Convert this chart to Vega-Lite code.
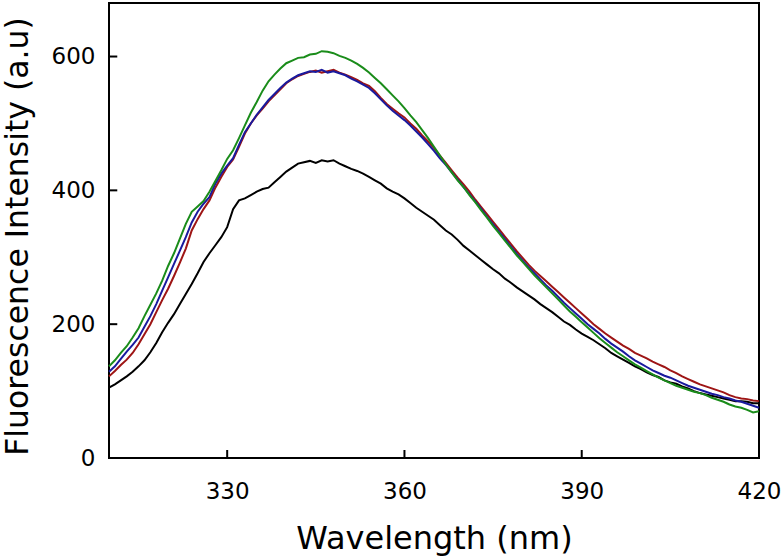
{
"$schema": "https://vega.github.io/schema/vega-lite/v6.json",
"width": 650, "height": 455,
"autosize": {"type": "none"},
"padding": {"left": 109, "top": 3, "right": 25, "bottom": 102},
"background": "white",
"config": {"view": {"stroke": "black", "strokeWidth": 2}, "font": "DejaVu Sans"},
"layer": [
{
"data": {"values": [
{"w":310,"s":"A","v":105},{"w":311,"s":"A","v":110},{"w":312,"s":"A","v":116},{"w":313,"s":"A","v":122},{"w":314,"s":"A","v":129},{"w":315,"s":"A","v":137},{"w":316,"s":"A","v":146},{"w":317,"s":"A","v":158},{"w":318,"s":"A","v":172},{"w":319,"s":"A","v":188},{"w":320,"s":"A","v":202},{"w":321,"s":"A","v":215},{"w":322,"s":"A","v":230},{"w":323,"s":"A","v":245},{"w":324,"s":"A","v":260},{"w":325,"s":"A","v":276},{"w":326,"s":"A","v":293},{"w":327,"s":"A","v":306},{"w":328,"s":"A","v":318},{"w":329,"s":"A","v":330},{"w":330,"s":"A","v":345},{"w":331,"s":"A","v":372},{"w":332,"s":"A","v":385},{"w":333,"s":"A","v":388},{"w":334,"s":"A","v":393},{"w":335,"s":"A","v":398},{"w":336,"s":"A","v":402},{"w":337,"s":"A","v":404},{"w":338,"s":"A","v":412},{"w":339,"s":"A","v":420},{"w":340,"s":"A","v":428},{"w":341,"s":"A","v":434},{"w":342,"s":"A","v":440},{"w":343,"s":"A","v":442},{"w":344,"s":"A","v":444},{"w":345,"s":"A","v":441},{"w":346,"s":"A","v":445},{"w":347,"s":"A","v":443},{"w":348,"s":"A","v":445},{"w":349,"s":"A","v":440},{"w":350,"s":"A","v":436},{"w":351,"s":"A","v":432},{"w":352,"s":"A","v":429},{"w":353,"s":"A","v":425},{"w":354,"s":"A","v":420},{"w":355,"s":"A","v":415},{"w":356,"s":"A","v":410},{"w":357,"s":"A","v":403},{"w":358,"s":"A","v":398},{"w":359,"s":"A","v":394},{"w":360,"s":"A","v":388},{"w":361,"s":"A","v":381},{"w":362,"s":"A","v":374},{"w":363,"s":"A","v":368},{"w":364,"s":"A","v":362},{"w":365,"s":"A","v":356},{"w":366,"s":"A","v":348},{"w":367,"s":"A","v":340},{"w":368,"s":"A","v":334},{"w":369,"s":"A","v":326},{"w":370,"s":"A","v":317},{"w":371,"s":"A","v":310},{"w":372,"s":"A","v":303},{"w":373,"s":"A","v":296},{"w":374,"s":"A","v":289},{"w":375,"s":"A","v":282},{"w":376,"s":"A","v":276},{"w":377,"s":"A","v":268},{"w":378,"s":"A","v":262},{"w":379,"s":"A","v":255},{"w":380,"s":"A","v":249},{"w":381,"s":"A","v":243},{"w":382,"s":"A","v":237},{"w":383,"s":"A","v":230},{"w":384,"s":"A","v":224},{"w":385,"s":"A","v":218},{"w":386,"s":"A","v":211},{"w":387,"s":"A","v":204},{"w":388,"s":"A","v":199},{"w":389,"s":"A","v":192},{"w":390,"s":"A","v":186},{"w":391,"s":"A","v":181},{"w":392,"s":"A","v":176},{"w":393,"s":"A","v":170},{"w":394,"s":"A","v":164},{"w":395,"s":"A","v":157},{"w":396,"s":"A","v":152},{"w":397,"s":"A","v":147},{"w":398,"s":"A","v":142},{"w":399,"s":"A","v":137},{"w":400,"s":"A","v":133},{"w":401,"s":"A","v":128},{"w":402,"s":"A","v":124},{"w":403,"s":"A","v":121},{"w":404,"s":"A","v":116},{"w":405,"s":"A","v":113},{"w":406,"s":"A","v":111},{"w":407,"s":"A","v":107},{"w":408,"s":"A","v":104},{"w":409,"s":"A","v":100},{"w":410,"s":"A","v":97},{"w":411,"s":"A","v":95},{"w":412,"s":"A","v":93},{"w":413,"s":"A","v":91},{"w":414,"s":"A","v":89},{"w":415,"s":"A","v":87},{"w":416,"s":"A","v":85},{"w":417,"s":"A","v":85},{"w":418,"s":"A","v":84},{"w":419,"s":"A","v":82},{"w":420,"s":"A","v":82},
{"w":310,"s":"B","v":122},{"w":311,"s":"B","v":130},{"w":312,"s":"B","v":139},{"w":313,"s":"B","v":147},{"w":314,"s":"B","v":157},{"w":315,"s":"B","v":170},{"w":316,"s":"B","v":185},{"w":317,"s":"B","v":200},{"w":318,"s":"B","v":218},{"w":319,"s":"B","v":236},{"w":320,"s":"B","v":253},{"w":321,"s":"B","v":272},{"w":322,"s":"B","v":292},{"w":323,"s":"B","v":313},{"w":324,"s":"B","v":340},{"w":325,"s":"B","v":357},{"w":326,"s":"B","v":372},{"w":327,"s":"B","v":385},{"w":328,"s":"B","v":404},{"w":329,"s":"B","v":420},{"w":330,"s":"B","v":435},{"w":331,"s":"B","v":446},{"w":332,"s":"B","v":465},{"w":333,"s":"B","v":485},{"w":334,"s":"B","v":500},{"w":335,"s":"B","v":512},{"w":336,"s":"B","v":522},{"w":337,"s":"B","v":533},{"w":338,"s":"B","v":542},{"w":339,"s":"B","v":551},{"w":340,"s":"B","v":560},{"w":341,"s":"B","v":566},{"w":342,"s":"B","v":571},{"w":343,"s":"B","v":574},{"w":344,"s":"B","v":577},{"w":345,"s":"B","v":579},{"w":346,"s":"B","v":576},{"w":347,"s":"B","v":578},{"w":348,"s":"B","v":580},{"w":349,"s":"B","v":576},{"w":350,"s":"B","v":573},{"w":351,"s":"B","v":569},{"w":352,"s":"B","v":565},{"w":353,"s":"B","v":560},{"w":354,"s":"B","v":556},{"w":355,"s":"B","v":548},{"w":356,"s":"B","v":538},{"w":357,"s":"B","v":529},{"w":358,"s":"B","v":522},{"w":359,"s":"B","v":515},{"w":360,"s":"B","v":509},{"w":361,"s":"B","v":500},{"w":362,"s":"B","v":492},{"w":363,"s":"B","v":482},{"w":364,"s":"B","v":473},{"w":365,"s":"B","v":463},{"w":366,"s":"B","v":452},{"w":367,"s":"B","v":441},{"w":368,"s":"B","v":430},{"w":369,"s":"B","v":419},{"w":370,"s":"B","v":409},{"w":371,"s":"B","v":398},{"w":372,"s":"B","v":386},{"w":373,"s":"B","v":375},{"w":374,"s":"B","v":364},{"w":375,"s":"B","v":353},{"w":376,"s":"B","v":342},{"w":377,"s":"B","v":331},{"w":378,"s":"B","v":320},{"w":379,"s":"B","v":309},{"w":380,"s":"B","v":299},{"w":381,"s":"B","v":289},{"w":382,"s":"B","v":280},{"w":383,"s":"B","v":272},{"w":384,"s":"B","v":264},{"w":385,"s":"B","v":256},{"w":386,"s":"B","v":248},{"w":387,"s":"B","v":240},{"w":388,"s":"B","v":232},{"w":389,"s":"B","v":224},{"w":390,"s":"B","v":216},{"w":391,"s":"B","v":208},{"w":392,"s":"B","v":200},{"w":393,"s":"B","v":193},{"w":394,"s":"B","v":186},{"w":395,"s":"B","v":180},{"w":396,"s":"B","v":174},{"w":397,"s":"B","v":168},{"w":398,"s":"B","v":163},{"w":399,"s":"B","v":157},{"w":400,"s":"B","v":153},{"w":401,"s":"B","v":149},{"w":402,"s":"B","v":144},{"w":403,"s":"B","v":140},{"w":404,"s":"B","v":136},{"w":405,"s":"B","v":131},{"w":406,"s":"B","v":127},{"w":407,"s":"B","v":122},{"w":408,"s":"B","v":118},{"w":409,"s":"B","v":114},{"w":410,"s":"B","v":110},{"w":411,"s":"B","v":107},{"w":412,"s":"B","v":104},{"w":413,"s":"B","v":101},{"w":414,"s":"B","v":98},{"w":415,"s":"B","v":94},{"w":416,"s":"B","v":91},{"w":417,"s":"B","v":89},{"w":418,"s":"B","v":88},{"w":419,"s":"B","v":86},{"w":420,"s":"B","v":85},
{"w":310,"s":"C","v":129},{"w":311,"s":"C","v":137},{"w":312,"s":"C","v":148},{"w":313,"s":"C","v":159},{"w":314,"s":"C","v":169},{"w":315,"s":"C","v":180},{"w":316,"s":"C","v":196},{"w":317,"s":"C","v":212},{"w":318,"s":"C","v":230},{"w":319,"s":"C","v":250},{"w":320,"s":"C","v":270},{"w":321,"s":"C","v":290},{"w":322,"s":"C","v":310},{"w":323,"s":"C","v":330},{"w":324,"s":"C","v":352},{"w":325,"s":"C","v":368},{"w":326,"s":"C","v":380},{"w":327,"s":"C","v":390},{"w":328,"s":"C","v":410},{"w":329,"s":"C","v":425},{"w":330,"s":"C","v":437},{"w":331,"s":"C","v":448},{"w":332,"s":"C","v":468},{"w":333,"s":"C","v":487},{"w":334,"s":"C","v":500},{"w":335,"s":"C","v":513},{"w":336,"s":"C","v":524},{"w":337,"s":"C","v":535},{"w":338,"s":"C","v":544},{"w":339,"s":"C","v":553},{"w":340,"s":"C","v":561},{"w":341,"s":"C","v":567},{"w":342,"s":"C","v":572},{"w":343,"s":"C","v":575},{"w":344,"s":"C","v":578},{"w":345,"s":"C","v":577},{"w":346,"s":"C","v":580},{"w":347,"s":"C","v":576},{"w":348,"s":"C","v":578},{"w":349,"s":"C","v":575},{"w":350,"s":"C","v":572},{"w":351,"s":"C","v":567},{"w":352,"s":"C","v":563},{"w":353,"s":"C","v":558},{"w":354,"s":"C","v":553},{"w":355,"s":"C","v":545},{"w":356,"s":"C","v":536},{"w":357,"s":"C","v":527},{"w":358,"s":"C","v":519},{"w":359,"s":"C","v":512},{"w":360,"s":"C","v":505},{"w":361,"s":"C","v":497},{"w":362,"s":"C","v":488},{"w":363,"s":"C","v":479},{"w":364,"s":"C","v":469},{"w":365,"s":"C","v":459},{"w":366,"s":"C","v":448},{"w":367,"s":"C","v":438},{"w":368,"s":"C","v":427},{"w":369,"s":"C","v":416},{"w":370,"s":"C","v":405},{"w":371,"s":"C","v":394},{"w":372,"s":"C","v":383},{"w":373,"s":"C","v":372},{"w":374,"s":"C","v":360},{"w":375,"s":"C","v":349},{"w":376,"s":"C","v":338},{"w":377,"s":"C","v":327},{"w":378,"s":"C","v":316},{"w":379,"s":"C","v":305},{"w":380,"s":"C","v":295},{"w":381,"s":"C","v":285},{"w":382,"s":"C","v":276},{"w":383,"s":"C","v":267},{"w":384,"s":"C","v":258},{"w":385,"s":"C","v":250},{"w":386,"s":"C","v":241},{"w":387,"s":"C","v":232},{"w":388,"s":"C","v":224},{"w":389,"s":"C","v":216},{"w":390,"s":"C","v":208},{"w":391,"s":"C","v":200},{"w":392,"s":"C","v":193},{"w":393,"s":"C","v":186},{"w":394,"s":"C","v":178},{"w":395,"s":"C","v":171},{"w":396,"s":"C","v":165},{"w":397,"s":"C","v":159},{"w":398,"s":"C","v":152},{"w":399,"s":"C","v":146},{"w":400,"s":"C","v":141},{"w":401,"s":"C","v":136},{"w":402,"s":"C","v":131},{"w":403,"s":"C","v":127},{"w":404,"s":"C","v":123},{"w":405,"s":"C","v":120},{"w":406,"s":"C","v":116},{"w":407,"s":"C","v":112},{"w":408,"s":"C","v":108},{"w":409,"s":"C","v":105},{"w":410,"s":"C","v":102},{"w":411,"s":"C","v":99},{"w":412,"s":"C","v":96},{"w":413,"s":"C","v":94},{"w":414,"s":"C","v":91},{"w":415,"s":"C","v":89},{"w":416,"s":"C","v":86},{"w":417,"s":"C","v":84},{"w":418,"s":"C","v":81},{"w":419,"s":"C","v":78},{"w":420,"s":"C","v":75},
{"w":310,"s":"D","v":137},{"w":311,"s":"D","v":146},{"w":312,"s":"D","v":157},{"w":313,"s":"D","v":167},{"w":314,"s":"D","v":180},{"w":315,"s":"D","v":194},{"w":316,"s":"D","v":212},{"w":317,"s":"D","v":229},{"w":318,"s":"D","v":246},{"w":319,"s":"D","v":265},{"w":320,"s":"D","v":287},{"w":321,"s":"D","v":306},{"w":322,"s":"D","v":328},{"w":323,"s":"D","v":350},{"w":324,"s":"D","v":368},{"w":325,"s":"D","v":376},{"w":326,"s":"D","v":384},{"w":327,"s":"D","v":398},{"w":328,"s":"D","v":414},{"w":329,"s":"D","v":430},{"w":330,"s":"D","v":447},{"w":331,"s":"D","v":460},{"w":332,"s":"D","v":478},{"w":333,"s":"D","v":497},{"w":334,"s":"D","v":516},{"w":335,"s":"D","v":532},{"w":336,"s":"D","v":549},{"w":337,"s":"D","v":563},{"w":338,"s":"D","v":573},{"w":339,"s":"D","v":582},{"w":340,"s":"D","v":590},{"w":341,"s":"D","v":594},{"w":342,"s":"D","v":598},{"w":343,"s":"D","v":599},{"w":344,"s":"D","v":603},{"w":345,"s":"D","v":604},{"w":346,"s":"D","v":608},{"w":347,"s":"D","v":607},{"w":348,"s":"D","v":605},{"w":349,"s":"D","v":601},{"w":350,"s":"D","v":598},{"w":351,"s":"D","v":594},{"w":352,"s":"D","v":589},{"w":353,"s":"D","v":583},{"w":354,"s":"D","v":576},{"w":355,"s":"D","v":568},{"w":356,"s":"D","v":560},{"w":357,"s":"D","v":551},{"w":358,"s":"D","v":542},{"w":359,"s":"D","v":533},{"w":360,"s":"D","v":523},{"w":361,"s":"D","v":512},{"w":362,"s":"D","v":502},{"w":363,"s":"D","v":490},{"w":364,"s":"D","v":478},{"w":365,"s":"D","v":465},{"w":366,"s":"D","v":452},{"w":367,"s":"D","v":439},{"w":368,"s":"D","v":427},{"w":369,"s":"D","v":415},{"w":370,"s":"D","v":405},{"w":371,"s":"D","v":393},{"w":372,"s":"D","v":382},{"w":373,"s":"D","v":370},{"w":374,"s":"D","v":359},{"w":375,"s":"D","v":347},{"w":376,"s":"D","v":336},{"w":377,"s":"D","v":325},{"w":378,"s":"D","v":314},{"w":379,"s":"D","v":303},{"w":380,"s":"D","v":293},{"w":381,"s":"D","v":283},{"w":382,"s":"D","v":273},{"w":383,"s":"D","v":264},{"w":384,"s":"D","v":255},{"w":385,"s":"D","v":246},{"w":386,"s":"D","v":237},{"w":387,"s":"D","v":228},{"w":388,"s":"D","v":219},{"w":389,"s":"D","v":211},{"w":390,"s":"D","v":203},{"w":391,"s":"D","v":195},{"w":392,"s":"D","v":187},{"w":393,"s":"D","v":179},{"w":394,"s":"D","v":172},{"w":395,"s":"D","v":165},{"w":396,"s":"D","v":158},{"w":397,"s":"D","v":152},{"w":398,"s":"D","v":146},{"w":399,"s":"D","v":140},{"w":400,"s":"D","v":135},{"w":401,"s":"D","v":130},{"w":402,"s":"D","v":125},{"w":403,"s":"D","v":120},{"w":404,"s":"D","v":116},{"w":405,"s":"D","v":112},{"w":406,"s":"D","v":108},{"w":407,"s":"D","v":105},{"w":408,"s":"D","v":102},{"w":409,"s":"D","v":99},{"w":410,"s":"D","v":97},{"w":411,"s":"D","v":94},{"w":412,"s":"D","v":90},{"w":413,"s":"D","v":87},{"w":414,"s":"D","v":84},{"w":415,"s":"D","v":80},{"w":416,"s":"D","v":77},{"w":417,"s":"D","v":75},{"w":418,"s":"D","v":72},{"w":419,"s":"D","v":68},{"w":420,"s":"D","v":70}
]},
"mark": {"type": "line", "strokeWidth": 2},
"encoding": {
"x": {"field": "w", "type": "quantitative",
 "scale": {"domain": [310, 420], "nice": false, "zero": false},
 "axis": {"title": "Wavelength (nm)", "values": [330, 360, 390, 420], "grid": false, "domain": false,
  "ticks": false, "labelFontSize": 23, "labelColor": "black",
  "labelPadding": 22, "labelFlush": false, "titleFontSize": 32, "titleFontWeight": "normal", "titleColor": "black",
  "titleBaseline": "alphabetic", "titleY": 90}},
"y": {"field": "v", "type": "quantitative",
 "scale": {"domain": [0, 680], "nice": false},
 "axis": {"title": "Fluorescence Intensity (a.u)", "values": [0, 200, 400, 600], "grid": false, "domain": false,
  "ticks": false, "labelFontSize": 23, "labelColor": "black",
  "labelPadding": 14, "labelFlush": false, "titleFontSize": 31.5, "titleFontWeight": "normal", "titleColor": "black",
  "titleBaseline": "alphabetic", "titleX": -82, "titleY": 233}},
"color": {"field": "s", "type": "nominal",
 "scale": {"domain": ["A", "B", "C", "D"], "range": ["#000000", "#9e1515", "#1a1a9e", "#1a8c1a"]},
 "legend": null}
}
},
{
"data": {"values": [{"w": 330}, {"w": 360}, {"w": 390}]},
"mark": {"type": "rule", "color": "black", "strokeWidth": 2},
"encoding": {
"x": {"field": "w", "type": "quantitative"},
"y": {"datum": 0},
"y2": {"datum": 12}
}
},
{
"data": {"values": [{"v": 200}, {"v": 400}, {"v": 600}]},
"mark": {"type": "rule", "color": "black", "strokeWidth": 2},
"encoding": {
"y": {"field": "v", "type": "quantitative"},
"x": {"datum": 310},
"x2": {"datum": 311.4}
}
}
]
}
